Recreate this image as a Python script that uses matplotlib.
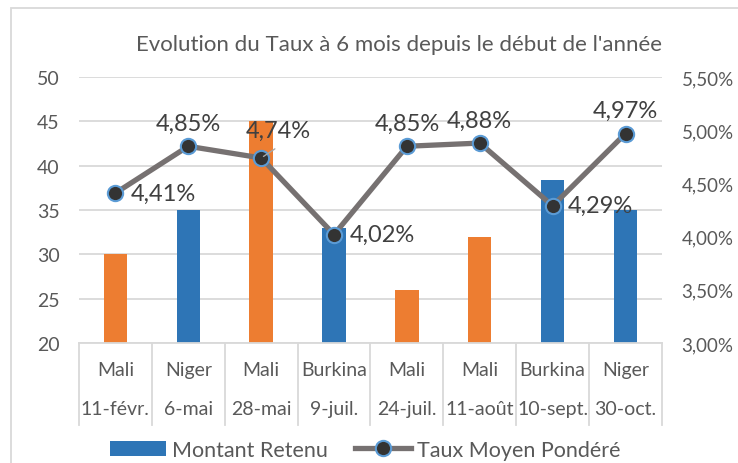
import matplotlib.pyplot as plt
from matplotlib.patches import Rectangle, Patch
from matplotlib.lines import Line2D
import matplotlib.transforms as mtransforms

plt.rcParams['font.family'] = ['Lato', 'DejaVu Sans']

pays = ["Mali", "Niger", "Mali", "Burkina", "Mali", "Mali", "Burkina", "Niger"]
dates = ["11-févr.", "6-mai", "28-mai", "9-juil.", "24-juil.", "11-août", "10-sept.", "30-oct."]
montant = [30, 35, 45, 33, 26, 32, 38.4, 35]
taux = [4.41, 4.85, 4.74, 4.02, 4.85, 4.88, 4.29, 4.97]
# where each data label sits relative to its point
label_pos = ["right", "above", "above_right", "right", "above", "above", "right", "above"]

blue = "#2e75b6"
orange = "#ed7d31"
grey_txt = "#595959"
colors = [orange if p == "Mali" else blue for p in pays]

fig = plt.figure(figsize=(7.38, 4.64), dpi=100)
ax = fig.add_axes([0.107, 0.2586, 0.790, 0.573])
ax2 = ax.twinx()

x = list(range(len(pays)))
ax.bar(x, montant, width=0.32, color=colors, zorder=2)
ax.set_ylim(20, 50)
ax.set_xlim(-0.5, len(pays) - 0.5)
ax.set_yticks(range(20, 51, 5))
ax.grid(axis="y", color="#d9d9d9", linewidth=1.3, zorder=0)
ax.set_axisbelow(True)
ax.tick_params(axis="y", length=0, pad=14, labelsize=14, labelcolor=grey_txt)
ax.tick_params(axis="x", length=0, labelbottom=False)
for s in ["top", "right", "left"]:
    ax.spines[s].set_visible(False)
ax.spines["bottom"].set_color("#d9d9d9")
ax.spines["bottom"].set_linewidth(1.3)

ax2.plot(x, taux, color="#767171", linewidth=3.8, marker="o", markersize=11,
         markerfacecolor="#333333", markeredgecolor="#5b9bd5", markeredgewidth=1.5, zorder=3)
ax2.set_ylim(3.0, 5.5)
ticks = [3.0 + 0.5 * i for i in range(6)]
ax2.set_yticks(ticks)
ax2.set_yticklabels([("%.2f%%" % t).replace(".", ",") for t in ticks])
ax2.tick_params(axis="y", length=0, pad=14, labelsize=13.5, labelcolor=grey_txt)
for s in ax2.spines.values():
    s.set_visible(False)

for xi, v, pos in zip(x, taux, label_pos):
    txt = ("%.2f%%" % v).replace(".", ",")
    if pos == "right":
        ax2.annotate(txt, (xi, v), xytext=(11, 0), textcoords="offset points",
                     ha="left", va="center", fontsize=17, color="#404040")
    elif pos == "above":
        ax2.annotate(txt, (xi, v), xytext=(0, 9), textcoords="offset points",
                     ha="center", va="bottom", fontsize=17, color="#404040")
    else:
        ax2.annotate(txt, (xi, v), xytext=(12, 12), textcoords="offset points",
                     ha="center", va="bottom", fontsize=17, color="#404040")
        ax2.annotate("", (xi, v), xytext=(xi + 0.22, v + 0.1), textcoords="data",
                     arrowprops=dict(arrowstyle="-", color="#a6a6a6", lw=1))

# two-level category axis
trans = mtransforms.blended_transform_factory(ax.transData, ax.transAxes)
for xi, p, d in zip(x, pays, dates):
    ax.text(xi, -0.10, p, transform=trans, ha="center", va="center",
            fontsize=14, color=grey_txt)
    ax.text(xi, -0.245, d, transform=trans, ha="center", va="center",
            fontsize=14, color=grey_txt)
for b in range(len(pays) + 1):
    ax.plot([b - 0.5, b - 0.5], [0, -0.31], transform=trans, color="#d9d9d9",
            linewidth=1.3, clip_on=False)

fig.text(0.540, 0.903, "Evolution du Taux à 6 mois depuis le début de l'année",
         ha="center", va="center", fontsize=16, color=grey_txt)

# chart border
fig.patches.append(Rectangle((11 / 738, -0.1), 1.2, 1 - 9 / 464 + 0.1,
                             transform=fig.transFigure, fill=False,
                             edgecolor="#d9d9d9", linewidth=1.3))

handles = [Patch(facecolor=blue, edgecolor="none"),
           Line2D([0], [0], color="#767171", linewidth=3.8, marker="o", markersize=11,
                  markerfacecolor="#333333", markeredgecolor="#5b9bd5", markeredgewidth=1.5)]
fig.legend(handles, ["Montant Retenu", "Taux Moyen Pondéré"], loc="center",
           bbox_to_anchor=(0.495, 0.028), ncol=2, frameon=False, fontsize=15.5,
           labelcolor=grey_txt, handlelength=2.6, handletextpad=0.25, columnspacing=1.3)

fig.savefig("out.png", dpi=100)
